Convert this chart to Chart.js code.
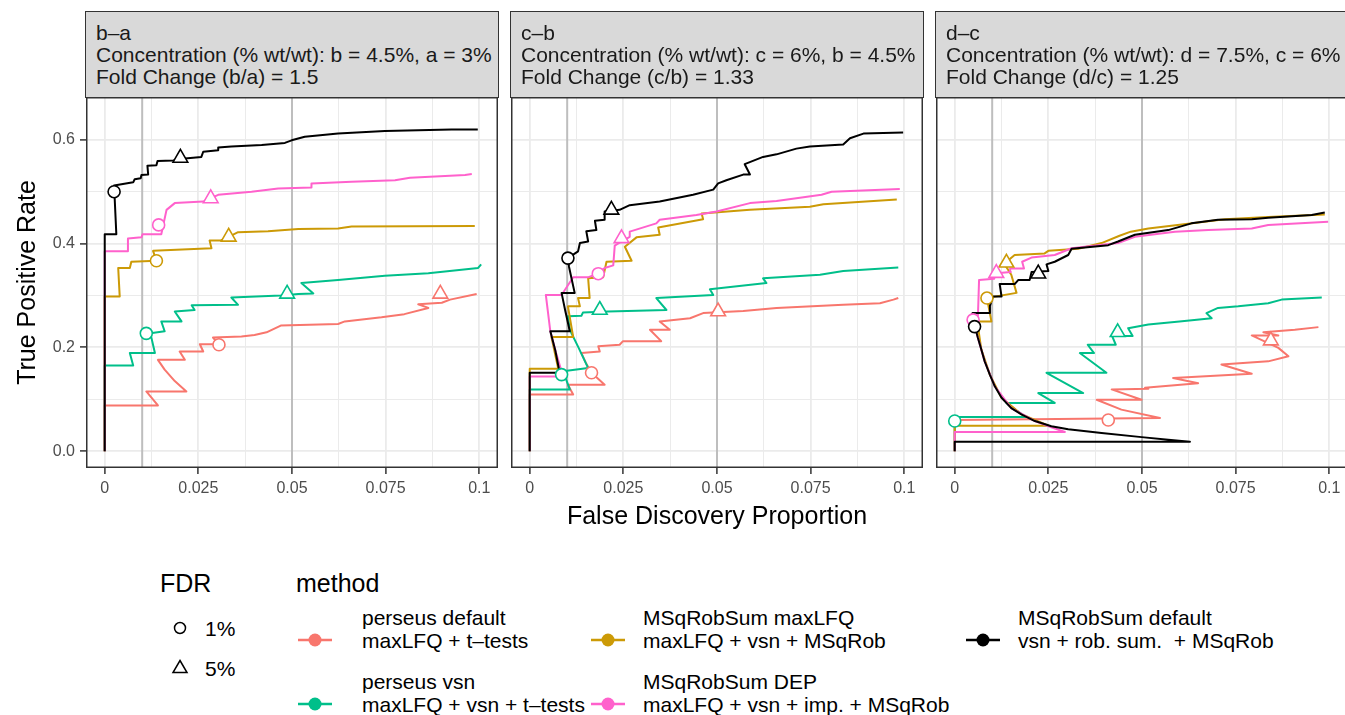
<!DOCTYPE html>
<html>
<head>
<meta charset="utf-8">
<script src="https://cdn.jsdelivr.net/npm/chart.js@4.4.0/dist/chart.umd.min.js"></script>
<style>
  html, body { margin: 0; padding: 0; width: 1345px; height: 715px; overflow: hidden; background: #fff; }
  body { position: relative; font-family: 'Liberation Sans', Arial, Helvetica, sans-serif; color: #000; }
  canvas { position: absolute; }
  .strip { position: absolute; top: 11px; height: 87px; width: 414px; box-sizing: border-box;
           background: #d9d9d9; border: 1.5px solid #333; overflow: hidden; white-space: nowrap;
           font-size: 21px; line-height: 22px; padding: 10px 0 0 10px; color: #1a1a1a; }
  .txt { position: absolute; white-space: pre; }
  .ttl { font-size: 25px; line-height: 30px; height: 30px; }
  .lab { font-size: 21px; line-height: 23px; }
</style>
</head>
<body>
<canvas id="p0" width="498" height="441" style="left:0px;top:97px"></canvas>
<canvas id="p1" width="412" height="441" style="left:511px;top:97px"></canvas>
<canvas id="p2" width="412" height="441" style="left:936px;top:97px"></canvas>
<script>
// ---- data ----
const X_GRID = [0, 0.0125, 0.025, 0.0375, 0.05, 0.0625, 0.075, 0.0875, 0.1];
const X_LABELS = ['0', '', '0.025', '', '0.05', '', '0.075', '', '0.1'];
const Y_GRID = [0, 0.1, 0.2, 0.3, 0.4, 0.5, 0.6];
const Y_LABELS = ['0.0', '', '0.2', '', '0.4', '', '0.6'];
const FDR_LINES = [0.01, 0.05];

const METHODS = ['perseus default', 'perseus vsn', 'MSqRobSum maxLFQ', 'MSqRobSum DEP', 'MSqRobSum default'];
const METHOD_INFO = ['maxLFQ + t\u2013tests', 'maxLFQ + vsn + t\u2013tests', 'maxLFQ + vsn + MSqRob',
                     'maxLFQ + vsn + imp. + MSqRob', 'vsn + rob. sum.  + MSqRob'];
const COLORS = ['#F8766D', '#00BF8A', '#CC9A06', '#FF61CC', '#000000'];

const PANEL_NAMES = ['b\u2013a', 'c\u2013b', 'd\u2013c'];
const PANEL_CONC = ['Concentration (% wt/wt): b = 4.5%, a = 3%',
                    'Concentration (% wt/wt): c = 6%, b = 4.5%',
                    'Concentration (% wt/wt): d = 7.5%, c = 6%'];
const PANEL_FC = ['Fold Change (b/a) = 1.5', 'Fold Change (c/b) = 1.33', 'Fold Change (d/c) = 1.25'];
const FDR_LEVELS = ['1%', '5%'];

// b-a : [FDP, TPR]
const ba_perseusDefault = [[0,0],[0,0.088],[0.0142,0.088],[0.0111,0.115],[0.0218,0.115],[0.0187,0.135],[0.0160,0.157],
  [0.0142,0.176],[0.0214,0.176],[0.0200,0.192],[0.0263,0.192],[0.0254,0.206],[0.0305,0.206],[0.0289,0.219],
  [0.0365,0.221],[0.0400,0.224],[0.0432,0.229],[0.0470,0.242],[0.0623,0.245],[0.0641,0.250],[0.0739,0.258],
  [0.0800,0.264],[0.0864,0.276],[0.0837,0.283],[0.0900,0.286],[0.0922,0.292],[0.0993,0.303]];
const ba_perseusVsn = [[0,0],[0,0.165],[0.0076,0.165],[0.0067,0.189],[0.0134,0.189],[0.0122,0.227],[0.0160,0.231],
  [0.0151,0.250],[0.0205,0.250],[0.0187,0.269],[0.0240,0.272],[0.0232,0.281],[0.0356,0.282],[0.0338,0.296],
  [0.0470,0.300],[0.0517,0.303],[0.0557,0.304],[0.0525,0.324],[0.0623,0.330],[0.0748,0.338],[0.0864,0.343],
  [0.0997,0.353],[0.1005,0.360]];
const ba_maxLFQ = [[0,0],[0,0.298],[0.0040,0.298],[0.0036,0.353],[0.0067,0.353],[0.0071,0.365],[0.0138,0.367],
  [0.0129,0.386],[0.0285,0.391],[0.0280,0.406],[0.0310,0.406],[0.0331,0.413],[0.0356,0.422],[0.0436,0.424],
  [0.0517,0.428],[0.0623,0.429],[0.0659,0.433],[0.0988,0.434]];
const ba_DEP = [[0,0],[0,0.385],[0.0062,0.385],[0.0062,0.410],[0.0098,0.412],[0.0101,0.418],[0.0151,0.418],
  [0.0165,0.465],[0.0187,0.478],[0.0263,0.481],[0.0303,0.494],[0.0392,0.500],[0.0463,0.506],[0.0552,0.508],
  [0.0552,0.516],[0.0659,0.519],[0.0775,0.522],[0.0815,0.527],[0.0962,0.532],[0.0980,0.534]];
const ba_default = [[0,0],[0,0.418],[0.0031,0.418],[0.0025,0.512],[0.0076,0.518],[0.0080,0.524],[0.0096,0.526],
  [0.0098,0.532],[0.0116,0.533],[0.0114,0.550],[0.0138,0.551],[0.0141,0.559],[0.0183,0.560],[0.0214,0.564],
  [0.0258,0.567],[0.0263,0.577],[0.0303,0.580],[0.0303,0.585],[0.0338,0.587],[0.0419,0.590],[0.0481,0.594],
  [0.0499,0.599],[0.0534,0.606],[0.0623,0.612],[0.0748,0.617],[0.0926,0.620],[0.0996,0.620]];
const ba_fdr1 = [[0.0305,0.205],[0.0111,0.227],[0.0138,0.367],[0.0144,0.436],[0.0025,0.500]];
const ba_fdr5 = [[0.0896,0.303],[0.0487,0.303],[0.0331,0.413],[0.0283,0.487],[0.0202,0.565]];

// c-b
const cb_perseusDefault = [[0,0],[0,0.109],[0.0116,0.109],[0.0102,0.128],[0.0200,0.128],[0.0165,0.151],[0.0150,0.170],
  [0.0138,0.189],[0.0187,0.192],[0.0183,0.202],[0.0240,0.205],[0.0249,0.212],[0.0351,0.212],[0.0321,0.234],
  [0.0374,0.234],[0.0347,0.250],[0.0428,0.256],[0.0463,0.266],[0.0570,0.270],[0.0659,0.276],[0.0837,0.282],
  [0.0935,0.285],[0.0971,0.292],[0.0984,0.295]];
const cb_perseusVsn = [[0,0],[0,0.119],[0.0107,0.119],[0.0089,0.154],[0.0156,0.160],[0.0130,0.200],[0.0107,0.234],
  [0.0102,0.260],[0.0138,0.261],[0.0142,0.267],[0.0209,0.269],[0.0365,0.272],[0.0338,0.295],[0.0490,0.301],
  [0.0481,0.312],[0.0632,0.324],[0.0623,0.333],[0.0775,0.340],[0.0837,0.347],[0.0984,0.354]];
const cb_maxLFQ = [[0,0],[0,0.159],[0.0076,0.159],[0.0058,0.220],[0.0116,0.220],[0.0102,0.279],[0.0134,0.279],
  [0.0129,0.295],[0.0160,0.295],[0.0156,0.333],[0.0196,0.335],[0.0205,0.365],[0.0272,0.367],[0.0254,0.394],
  [0.0285,0.412],[0.0347,0.417],[0.0343,0.431],[0.0463,0.447],[0.0459,0.458],[0.0588,0.465],[0.0748,0.471],
  [0.0784,0.476],[0.0980,0.485]];
const cb_DEP = [[0,0],[0,0.144],[0.0089,0.144],[0.0070,0.190],[0.0055,0.231],[0.0043,0.301],[0.0085,0.301],
  [0.0116,0.335],[0.0156,0.335],[0.0183,0.343],[0.0200,0.353],[0.0223,0.358],[0.0227,0.396],[0.0245,0.404],
  [0.0267,0.413],[0.0267,0.423],[0.0338,0.439],[0.0347,0.446],[0.0445,0.455],[0.0499,0.462],[0.0588,0.478],
  [0.0659,0.482],[0.0779,0.494],[0.0806,0.500],[0.0988,0.505]];
const cb_default = [[0,0],[0,0.151],[0.0080,0.151],[0.0068,0.195],[0.0055,0.231],[0.0107,0.231],[0.0095,0.270],
  [0.0085,0.305],[0.0120,0.305],[0.0105,0.355],[0.0102,0.372],[0.0129,0.385],[0.0134,0.401],[0.0156,0.404],
  [0.0151,0.424],[0.0178,0.426],[0.0174,0.444],[0.0200,0.446],[0.0200,0.462],[0.0240,0.465],[0.0267,0.474],
  [0.0347,0.481],[0.0436,0.494],[0.0490,0.504],[0.0503,0.516],[0.0525,0.522],[0.0570,0.533],[0.0588,0.533],
  [0.0574,0.553],[0.0623,0.567],[0.0659,0.572],[0.0712,0.583],[0.0748,0.587],[0.0837,0.591],[0.0855,0.603],
  [0.0891,0.612],[0.0997,0.614]];
const cb_fdr1 = [[0.0165,0.151],[0.0085,0.1475],null,[0.0183,0.342],[0.0102,0.372]];
const cb_fdr5 = [[0.0503,0.269],[0.0187,0.272],null,[0.0245,0.410],[0.0218,0.465]];

// d-c
const dc_perseusDefault = [[0,0],[0,0.060],[0.0548,0.064],[0.0445,0.080],[0.0379,0.099],[0.0499,0.099],[0.0419,0.119],
  [0.0517,0.120],[0.0508,0.122],[0.0650,0.131],[0.0583,0.141],[0.0793,0.149],[0.0712,0.167],[0.0837,0.173],
  [0.0891,0.183],[0.0864,0.199],[0.0793,0.223],[0.0864,0.223],[0.0824,0.229],[0.0908,0.234],[0.0971,0.239]];
const dc_perseusVsn = [[0,0],[0,0.066],[0.0190,0.066],[0.0165,0.078],[0.0138,0.093],[0.0267,0.093],[0.0223,0.112],
  [0.0343,0.112],[0.0245,0.151],[0.0405,0.151],[0.0334,0.189],[0.0372,0.189],[0.0355,0.205],[0.0430,0.205],
  [0.0420,0.222],[0.0475,0.222],[0.0463,0.237],[0.0517,0.244],[0.0600,0.250],[0.0686,0.256],[0.0672,0.266],
  [0.0703,0.276],[0.0757,0.279],[0.0837,0.285],[0.0873,0.292],[0.0980,0.296]];
const dc_maxLFQ = [[0,0],[0,0.049],[0.0250,0.049],[0.0178,0.071],[0.0125,0.103],[0.0094,0.147],[0.0071,0.196],
  [0.0060,0.250],[0.0098,0.250],[0.0086,0.295],[0.0165,0.305],[0.0151,0.340],[0.0135,0.358],[0.0140,0.366],
  [0.0160,0.378],[0.0240,0.381],[0.0250,0.386],[0.0330,0.390],[0.0392,0.401],[0.0440,0.415],[0.0470,0.423],
  [0.0517,0.429],[0.0623,0.438],[0.0721,0.447],[0.0837,0.451],[0.0988,0.456]];
const dc_DEP = [[0,0],[0,0.037],[0.0294,0.037],[0.0258,0.046],[0.0214,0.058],[0.0151,0.083],[0.0107,0.125],
  [0.0080,0.173],[0.0062,0.218],[0.0049,0.253],[0.0062,0.262],[0.0065,0.330],[0.0105,0.332],[0.0111,0.343],
  [0.0150,0.345],[0.0148,0.352],[0.0185,0.352],[0.0180,0.365],[0.0205,0.373],[0.0267,0.378],[0.0312,0.391],
  [0.0436,0.401],[0.0481,0.413],[0.0588,0.423],[0.0677,0.426],[0.0793,0.429],[0.0837,0.436],[0.0997,0.442]];
const dc_default = [[0,0],[0,0.018],[0.0628,0.018],[0.0570,0.022],[0.0499,0.027],[0.0392,0.035],[0.0303,0.042],
  [0.0258,0.048],[0.0214,0.058],[0.0178,0.071],[0.0151,0.083],[0.0125,0.103],[0.0107,0.125],[0.0094,0.147],
  [0.0080,0.173],[0.0071,0.196],[0.0062,0.218],[0.0053,0.242],[0.0047,0.266],[0.0094,0.266],[0.0094,0.280],
  [0.0102,0.298],[0.0125,0.298],[0.0120,0.322],[0.0160,0.322],[0.0170,0.330],[0.0200,0.330],[0.0205,0.345],
  [0.0250,0.347],[0.0245,0.360],[0.0267,0.365],[0.0303,0.378],[0.0312,0.390],[0.0410,0.397],[0.0436,0.404],
  [0.0481,0.417],[0.0570,0.426],[0.0632,0.439],[0.0703,0.446],[0.0793,0.447],[0.0837,0.450],[0.0953,0.455],
  [0.0988,0.460]];
const dc_fdr1 = [[0.0410,0.060],[0,0.058],[0.0086,0.295],[0.0049,0.253],[0.0053,0.240]];
const dc_fdr5 = [[0.0844,0.213],[0.0435,0.229],[0.0138,0.363],[0.0111,0.343],[0.0223,0.342]];

const PANELS = [
  { curves: [ba_perseusDefault, ba_perseusVsn, ba_maxLFQ, ba_DEP, ba_default], fdr: [ba_fdr1, ba_fdr5] },
  { curves: [cb_perseusDefault, cb_perseusVsn, cb_maxLFQ, cb_DEP, cb_default], fdr: [cb_fdr1, cb_fdr5] },
  { curves: [dc_perseusDefault, dc_perseusVsn, dc_maxLFQ, dc_DEP, dc_default], fdr: [dc_fdr1, dc_fdr5] }
];

// ---- drawing ----
Chart.defaults.font.family = "'Liberation Sans', Arial, Helvetica, sans-serif";

const panelDecor = {
  id: 'panelDecor',
  beforeDatasetsDraw(chart) {
    const { ctx, chartArea: a, scales: { x } } = chart;
    ctx.save();
    ctx.strokeStyle = '#BEBEBE';
    ctx.lineWidth = 2;
    FDR_LINES.forEach(v => {
      const px = x.getPixelForValue(v);
      ctx.beginPath(); ctx.moveTo(px, a.top); ctx.lineTo(px, a.bottom); ctx.stroke();
    });
    ctx.restore();
  },
  afterDraw(chart) {
    const { ctx, chartArea: a } = chart;
    ctx.save();
    ctx.strokeStyle = '#333333';
    ctx.lineWidth = 1.5;
    ctx.strokeRect(a.left + 0.75, a.top + 0.75, a.right - a.left - 1.5, a.bottom - a.top - 1.5);
    ctx.restore();
  }
};

const pointStyles = [['circle', 6], ['triangle', 8.5]];

function drawPanel(idx) {
  const panel = PANELS[idx];
  const datasets = [];
  panel.curves.forEach((c, m) => datasets.push({
    data: c.map(p => ({ x: p[0], y: p[1] })),
    showLine: true, borderColor: COLORS[m], borderWidth: 2, pointRadius: 0,
    borderJoinStyle: 'round', tension: 0, fill: false
  }));
  panel.fdr.forEach((pts, k) => {
    const keep = [];
    pts.forEach((p, m) => { if (p) keep.push(m); });
    datasets.push({
      data: keep.map(m => ({ x: pts[m][0], y: pts[m][1] })),
      showLine: false, pointStyle: pointStyles[k][0], pointRadius: pointStyles[k][1],
      pointBorderColor: keep.map(m => COLORS[m]), pointBackgroundColor: '#ffffff', pointBorderWidth: 1.6
    });
  });
  // later datasets on top
  datasets.forEach((d, i) => { d.order = datasets.length - i; });

  new Chart(document.getElementById('p' + idx), {
    type: 'scatter',
    data: { datasets: datasets },
    options: {
      responsive: false, animation: false, devicePixelRatio: 1, events: [],
      layout: { padding: 0, autoPadding: false },
      plugins: { legend: { display: false }, tooltip: { enabled: false } },
      scales: {
        x: {
          type: 'linear', min: -0.005, max: 0.105,
          afterBuildTicks: s => { s.ticks = X_GRID.map(v => ({ value: v })); },
          afterFit: s => { s.height = 70; s.paddingLeft = 0; s.paddingRight = 0; },
          ticks: { autoSkip: false, maxRotation: 0, minRotation: 0, padding: 5, color: '#4D4D4D',
                   font: { size: 16 }, callback: (v, i) => X_LABELS[i] },
          grid: { color: '#EBEBEB', lineWidth: c => X_LABELS[c.index] ? 1.8 : 1, tickLength: 6, tickWidth: 1.5,
                  tickColor: c => X_LABELS[c.index] ? '#333333' : 'rgba(0,0,0,0)' },
          border: { display: false },
          title: { display: idx === 1, text: 'False Discovery Proportion', color: '#000', font: { size: 25 },
                   padding: { top: 0, bottom: 6 } }
        },
        y: {
          type: 'linear', min: -0.0325, max: 0.6825,
          afterBuildTicks: s => { s.ticks = Y_GRID.map(v => ({ value: v })); },
          afterFit: s => { s.width = idx === 0 ? 86 : 0; s.paddingTop = 0; s.paddingBottom = 0; },
          ticks: { display: idx === 0, autoSkip: false, padding: 5, color: '#4D4D4D', font: { size: 16 },
                   callback: (v, i) => Y_LABELS[i] },
          grid: { color: '#EBEBEB', lineWidth: c => Y_LABELS[c.index] ? 1.8 : 1, tickLength: 6, tickWidth: 1.5,
                  tickColor: c => Y_LABELS[c.index] ? '#333333' : 'rgba(0,0,0,0)' },
          border: { display: false },
          title: { display: idx === 0, text: 'True Positive Rate', color: '#000', font: { size: 25 },
                   padding: { top: 13, bottom: 0 } }
        }
      }
    },
    plugins: [panelDecor]
  });
}

[0, 1, 2].forEach(drawPanel);

// strips
const stripLeft = [85, 510, 935];
PANEL_NAMES.forEach((n, i) => {
  const d = document.createElement('div');
  d.className = 'strip';
  d.style.left = stripLeft[i] + 'px';
  d.textContent = n + '\n' + PANEL_CONC[i] + '\n' + PANEL_FC[i];
  d.style.whiteSpace = 'pre';
  document.body.appendChild(d);
});

// legend
function addText(text, cls, left, top) {
  const d = document.createElement('div');
  d.className = 'txt ' + cls;
  d.style.left = left + 'px';
  d.style.top = top + 'px';
  d.textContent = text;
  document.body.appendChild(d);
  return d;
}
function addSvg(left, top, w, h, inner) {
  const d = document.createElement('div');
  d.className = 'txt';
  d.style.left = left + 'px';
  d.style.top = top + 'px';
  d.innerHTML = '<svg width="' + w + '" height="' + h + '" xmlns="http://www.w3.org/2000/svg">' + inner + '</svg>';
  document.body.appendChild(d);
}

addText('FDR', 'ttl', 160, 568);
addText('method', 'ttl', 296, 568);

const fdrKeyY = [628, 668];
addSvg(170, fdrKeyY[0] - 10, 20, 20, '<circle cx="10" cy="10" r="5.5" fill="none" stroke="#000" stroke-width="1.5"/>');
addSvg(170, fdrKeyY[1] - 10, 20, 20, '<polygon points="10,2.5 17,14.5 3,14.5" fill="none" stroke="#000" stroke-width="1.5"/>');
FDR_LEVELS.forEach((t, k) => addText(t, 'lab', 205, fdrKeyY[k] - 11.5));

const keyX = [315, 315, 608, 608, 983];
const keyY = [640, 704, 640, 704, 640];
const labX = [362, 362, 643, 643, 1018];
METHODS.forEach((m, i) => {
  addSvg(keyX[i] - 17, keyY[i] - 8, 34, 16,
    '<line x1="0" y1="8" x2="34" y2="8" stroke="' + COLORS[i] + '" stroke-width="2.3"/>' +
    '<circle cx="17" cy="8" r="6.5" fill="' + COLORS[i] + '"/>');
  addText(m + '\n' + METHOD_INFO[i], 'lab', labX[i], keyY[i] - 23 - 11.5);
});
</script>
</body>
</html>
